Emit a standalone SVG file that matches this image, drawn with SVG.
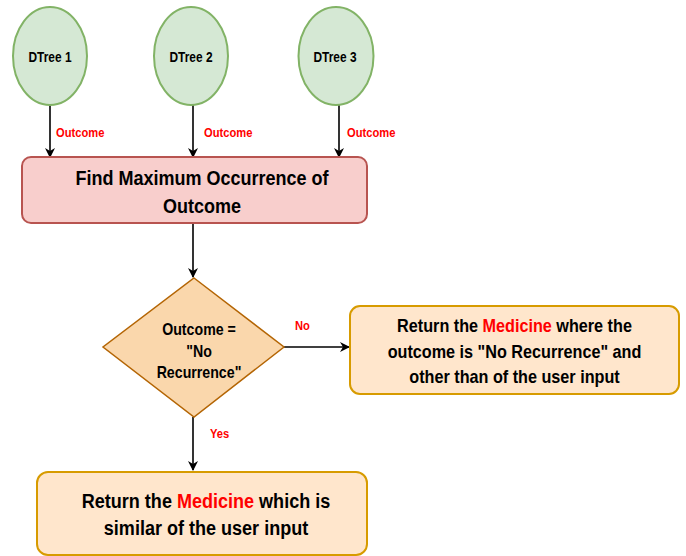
<svg xmlns="http://www.w3.org/2000/svg" width="686" height="556" viewBox="0 0 686 556">
  <defs>
    <marker id="arr" viewBox="0 0 10 10" refX="9" refY="5" markerWidth="10" markerHeight="10" markerUnits="userSpaceOnUse" orient="auto">
      <path d="M0,0 L10,5 L0,10 L3,5 Z" fill="#000"/>
    </marker>
    <style>
      .t { font-family: "Liberation Sans", Arial, sans-serif; font-weight: bold; fill: #000; }
      .lbl { font-family: "Liberation Sans", Arial, sans-serif; font-weight: bold; fill: #ff0000; font-size: 13px; }
      .red { fill: #ff0000; }
      .tree { fill: #d5e8d4; stroke: #82b366; stroke-width: 2; }
      .edge { stroke: #000; stroke-width: 1.6; fill: none; marker-end: url(#arr); }
    </style>
  </defs>
  <rect width="686" height="556" fill="#fff"/>

  <g id="connectors">
    <line class="edge" x1="50" y1="105" x2="50" y2="157"/>
    <line class="edge" x1="193" y1="105" x2="193" y2="157"/>
    <line class="edge" x1="339" y1="105" x2="339" y2="157"/>
    <line class="edge" x1="193" y1="223" x2="193" y2="277"/>
    <line class="edge" x1="284" y1="347" x2="349" y2="347"/>
    <line class="edge" x1="193" y1="417" x2="193" y2="470"/>
    <text class="lbl" transform="translate(56,137) scale(0.86,1)">Outcome</text>
    <text class="lbl" transform="translate(204,137) scale(0.86,1)">Outcome</text>
    <text class="lbl" transform="translate(347,137) scale(0.86,1)">Outcome</text>
    <text class="lbl" transform="translate(295,330) scale(0.86,1)">No</text>
    <text class="lbl" transform="translate(210,438) scale(0.86,1)">Yes</text>
  </g>

  <g id="dtree1">
    <ellipse class="tree" cx="50" cy="56" rx="37" ry="49"/>
    <text class="t" font-size="14" text-anchor="middle" transform="translate(50,62) scale(0.85,1)">DTree 1</text>
  </g>
  <g id="dtree2">
    <ellipse class="tree" cx="191" cy="56" rx="37" ry="49"/>
    <text class="t" font-size="14" text-anchor="middle" transform="translate(191,62) scale(0.85,1)">DTree 2</text>
  </g>
  <g id="dtree3">
    <ellipse class="tree" cx="336" cy="56" rx="37.5" ry="49"/>
    <text class="t" font-size="14" text-anchor="middle" transform="translate(335,62) scale(0.85,1)">DTree 3</text>
  </g>

  <g id="find-max">
    <rect x="22" y="157" width="345" height="66" rx="9" fill="#f8cecc" stroke="#b85450" stroke-width="2"/>
    <text class="t" font-size="20" text-anchor="middle" transform="translate(202,185) scale(0.9,1)">Find Maximum Occurrence of</text>
    <text class="t" font-size="20" text-anchor="middle" transform="translate(202,213) scale(0.9,1)">Outcome</text>
  </g>

  <g id="decision">
    <polygon points="194,278 284,347 194,417 103,347" fill="#fad7ac" stroke="#b46504" stroke-width="1.5"/>
    <text class="t" font-size="16.5" text-anchor="middle" transform="translate(199,335) scale(0.86,1)">Outcome =</text>
    <text class="t" font-size="16.5" text-anchor="middle" transform="translate(199,357) scale(0.86,1)">"No</text>
    <text class="t" font-size="16.5" text-anchor="middle" transform="translate(199,378) scale(0.86,1)">Recurrence"</text>
  </g>

  <g id="return-other">
    <rect x="350" y="306" width="329" height="88" rx="10" fill="#ffe6cc" stroke="#d79b00" stroke-width="2"/>
    <text class="t" font-size="18" text-anchor="middle" transform="translate(514.5,332) scale(0.9,1)">Return the <tspan class="red">Medicine</tspan> where the</text>
    <text class="t" font-size="18" text-anchor="middle" transform="translate(514.5,358) scale(0.9,1)">outcome is "No Recurrence" and</text>
    <text class="t" font-size="18" text-anchor="middle" transform="translate(514.5,383) scale(0.9,1)">other than of the user input</text>
  </g>

  <g id="return-similar">
    <rect x="37" y="472" width="330" height="83" rx="11" fill="#ffe6cc" stroke="#d79b00" stroke-width="2"/>
    <text class="t" font-size="20.5" text-anchor="middle" transform="translate(206,508) scale(0.88,1)">Return the <tspan class="red">Medicine</tspan> which is</text>
    <text class="t" font-size="20.5" text-anchor="middle" transform="translate(206,535) scale(0.88,1)">similar of the user input</text>
  </g>
</svg>
